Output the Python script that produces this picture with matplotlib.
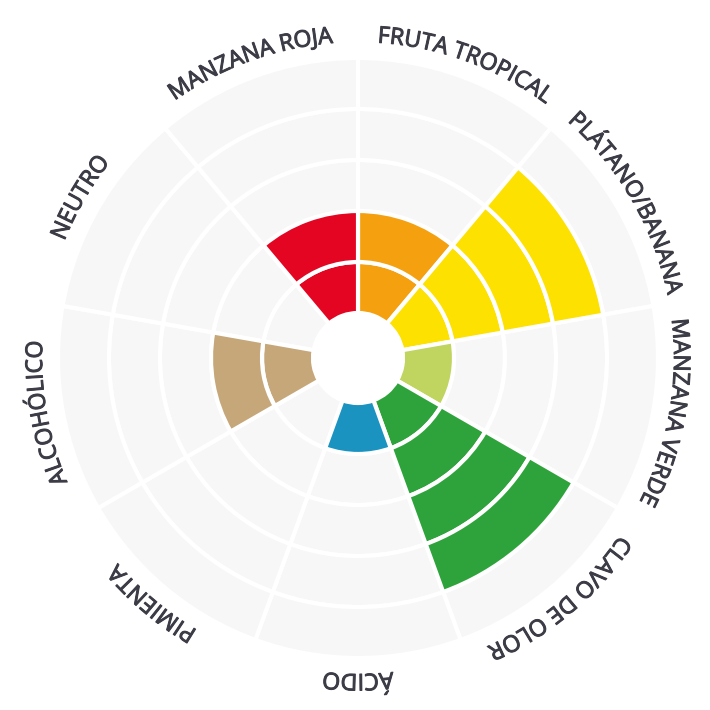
import numpy as np
import matplotlib
matplotlib.use("Agg")
import matplotlib.pyplot as plt
import matplotlib.patheffects as pe
from matplotlib.font_manager import FontProperties, findfont, get_font

# sectors clockwise from the top
categories = ["FRUTA TROPICAL", "PLÁTANO/BANANA", "MANZANA VERDE", "CLAVO DE OLOR",
              "ÁCIDO", "PIMIENTA", "ALCOHÓLICO", "NEUTRO", "MANZANA ROJA"]
levels = [2, 4, 1, 4, 1, 0, 2, 0, 2]
colors = ["#f5a00f", "#fde100", "#c0d460", "#2ea33b", "#1a93c1",
          "#c6a77a", "#c6a77a", "#e30521", "#e30521"]
max_level = 5

HOLE = 45       # px, radius of the empty centre
STEP = 51       # px per level
LABEL_R = 316   # px, text baseline
BG = "#f7f7f7"
TEXT_COLOR = "#3c3c46"
FONT_SIZE = 16.6


def main():
    fig = plt.figure(figsize=(7.1, 7.1), dpi=100, facecolor="white")
    ax = fig.add_axes([3 / 710, -3 / 710, 1, 1], projection="polar")
    ax.set_theta_zero_location("N")
    ax.set_theta_direction(-1)
    ax.set_ylim(0, 355)
    ax.axis("off")

    n = len(categories)
    width = 2 * np.pi / n
    centers = np.arange(n) * width + width / 2

    # grey grid cells, then coloured cells on top
    for k in range(max_level):
        ax.bar(centers, STEP, width=width, bottom=HOLE + k * STEP,
               color=BG, edgecolor="white", linewidth=3)
    for i in range(n):
        for k in range(levels[i]):
            ax.bar(centers[i], STEP, width=width, bottom=HOLE + k * STEP,
                   color=colors[i], edgecolor="white", linewidth=3)

    # curved labels, one character at a time
    fp = FontProperties(family="Open Sans", size=FONT_SIZE)
    font = get_font(findfont(fp))
    font.set_size(FONT_SIZE, 100)

    def advance(ch):
        g = font.load_char(ord(ch))
        return g.linearHoriAdvance / 65536

    def ink_width(ch):
        font.set_text(ch, 0.0)
        return font.get_width_height()[0] / 64

    def kern(a, b):
        try:
            from matplotlib.ft2font import Kerning
            mode = Kerning.DEFAULT
        except ImportError:
            from matplotlib.ft2font import KERNING_DEFAULT as mode
        try:
            return font.get_kerning(font.get_char_index(ord(a)),
                                    font.get_char_index(ord(b)), mode) / 64
        except Exception:
            return 0.0

    stroke = [pe.withStroke(linewidth=0.7, foreground=TEXT_COLOR)]

    for i, label in enumerate(categories):
        pens = []
        pos = 0.0
        for j, ch in enumerate(label):
            if j > 0:
                pos += kern(label[j - 1], ch)
            pens.append(pos)
            pos += advance(ch)
        total = pos
        for ch, p in zip(label, pens):
            if ch == " ":
                continue
            # text is laid out from its ink box, the glyph is drawn from its pen
            x = p + ink_width(ch) / 2 - total / 2
            theta = centers[i] + x / LABEL_R
            ax.text(theta, LABEL_R, ch, fontproperties=fp, color=TEXT_COLOR,
                    ha="center", va="baseline", rotation=-np.degrees(theta),
                    rotation_mode="anchor", path_effects=stroke)

    fig.savefig("out.png", dpi=100, facecolor="white")


if __name__ == "__main__":
    main()
